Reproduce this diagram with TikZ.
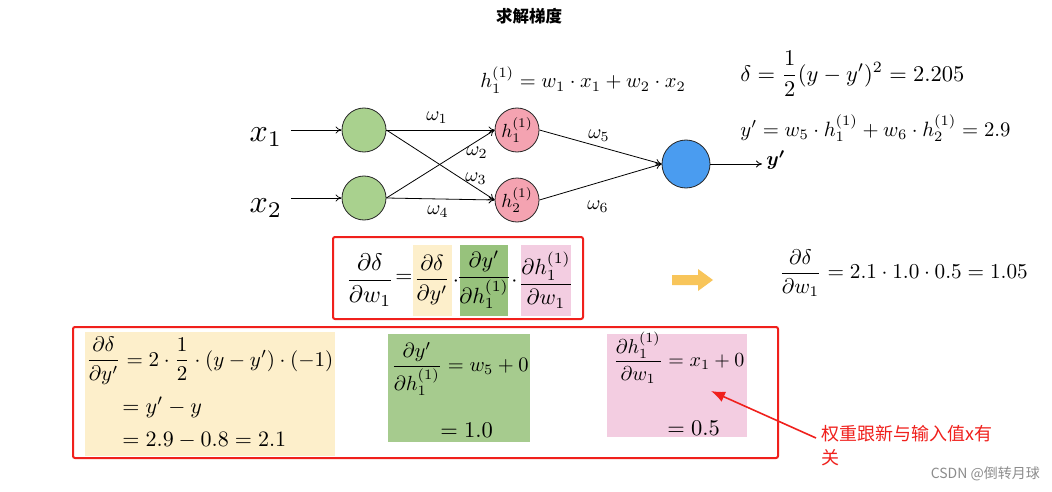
\documentclass[tikz,border=0pt]{standalone}
\usepackage{amsmath}
\usepackage{bm}
\usepackage{fontspec}
\newfontfamily\cjk{Noto Sans CJK SC}
\usetikzlibrary{arrows.meta}
\definecolor{gfill}{HTML}{A9D18E}
\definecolor{pfill}{HTML}{F4A3B1}
\definecolor{bfill}{HTML}{4A9CF0}
\definecolor{ybg}{HTML}{FDEFCB}
\definecolor{gbg}{HTML}{A6CB8E}
\definecolor{gbgd}{HTML}{97C27C}
\definecolor{pbg}{HTML}{F3CDE1}
\definecolor{redbox}{HTML}{F0201C}
\definecolor{yarrow}{HTML}{F8C55A}
\tikzset{
  neuron/.style={circle, draw=black!85, line width=0.8pt, minimum size=44pt, inner sep=0pt},
  conn/.style={-{To[length=6pt,width=7pt]}, line width=0.8pt},
  fm/.style={scale=2.1, inner sep=0pt},
  fmb/.style={scale=2.2, inner sep=0pt},
  wl/.style={scale=2.0, inner sep=0pt},
  redframe/.style={draw=redbox, line width=2pt, rounded corners=2pt}
}
\begin{document}
\begin{tikzpicture}[x=1pt,y=-1pt]
\useasboundingbox (0,0) rectangle (1052,492);
\fill[white] (0,0) rectangle (1052,492);

% title
\node[font=\cjk\bfseries\fontsize{16.5}{19}\selectfont] (title) at (529,16) {求解梯度};

% network
\node[neuron, fill=gfill] (g1) at (364,130) {};
\node[neuron, fill=gfill] (g2) at (364,198) {};
\node[neuron, fill=pfill] (p1) at (517,130) {\scalebox{1.9}{$h_1^{(1)}$}};
\node[neuron, fill=pfill] (p2) at (517,200) {\scalebox{1.9}{$h_2^{(1)}$}};
\node[neuron, fill=bfill, minimum size=48pt] (o) at (686,164) {};
\node[scale=3.2, inner sep=0pt] (x1) at (266,137) {$x_1$};
\node[scale=3.2, inner sep=0pt] (x2) at (266,208) {$x_2$};
\node[scale=2.0, inner sep=0pt, anchor=west] (yo) at (766,160) {$\bm{y'}$};

\draw[conn] ([xshift=8pt]x1.east |- g1.west) -- (g1.west);
\draw[conn] ([xshift=8pt]x2.east |- g2.west) -- (g2.west);
\draw[conn] (g1.east) -- (p1.west);
\draw[conn] (g1.east) -- (p2.west);
\draw[conn] (g2.east) -- (p1.west);
\draw[conn] (g2.east) -- (p2.west);
\draw[conn] (p1.east) -- (o.west);
\draw[conn] (p2.east) -- (o.west);
\draw[conn] (o.east) -- ([xshift=-4pt]yo.west |- o.east);

\node[wl] (w1) at (437,118) {$\omega_1$};
\node[wl] (w2) at (477,153) {$\omega_2$};
\node[wl] (w3) at (476,179) {$\omega_3$};
\node[wl] (w4) at (438,212) {$\omega_4$};
\node[wl] (w5) at (599,136) {$\omega_5$};
\node[wl] (w6) at (598,207) {$\omega_6$};

% formulas top
\node[scale=2.05, inner sep=0pt] (fh) at (583,80) {$h_1^{(1)} = w_1\cdot x_1 + w_2\cdot x_2$};
\node[scale=2.25, inner sep=0pt, anchor=west] (fd) at (740,74) {$\delta = \dfrac{1}{2}(y-y')^2 = 2.205$};
\node[scale=2.07, inner sep=0pt, anchor=west] (fy) at (740,128) {$y' = w_5\cdot h_1^{(1)} + w_6\cdot h_2^{(1)} = 2.9$};

% chain rule box
\fill[ybg] (413,245) rectangle (452,316);
\fill[gbgd] (460,245) rectangle (508,316);
\fill[pbg] (521,245) rectangle (571,316);
\node[scale=2.4, inner sep=0pt] (c0) at (370,280) {$\dfrac{\partial\delta}{\partial w_1}$};
\node[fmb] (ceq) at (404,278) {$=$};
\node[fmb] (c1) at (432,280) {$\dfrac{\partial\delta}{\partial y'}$};
\node[fmb] (cd1) at (456,282) {$\cdot$};
\node[fmb] (c2) at (484,280) {$\dfrac{\partial y'}{\partial h_1^{(1)}}$};
\node[fmb] (cd2) at (514.5,282) {$\cdot$};
\node[fmb] (c3) at (546,280) {$\dfrac{\partial h_1^{(1)}}{\partial w_1}$};
\draw[redframe] (333,237) rectangle (583,319);

% yellow arrow
\fill[yarrow] (672,275) -- (698,275) -- (698,269) -- (713,280) -- (698,291) -- (698,285) -- (672,285) -- cycle;

% result
\node[scale=2.12, inner sep=0pt, anchor=west] (res) at (779,273) {$\dfrac{\partial\delta}{\partial w_1} = 2.1\cdot1.0\cdot0.5 = 1.05$};

% lower box
\fill[ybg] (85,332) rectangle (335,456);
\fill[gbg] (388,334) rectangle (530,442);
\fill[pbg] (607,334) rectangle (747,437);

\node[fm, anchor=west] (ya) at (86,361) {$\dfrac{\partial\delta}{\partial y'} = 2\cdot\dfrac{1}{2}\cdot(y-y')\cdot(-1)$};
\node[scale=2.2, inner sep=0pt, anchor=west] (yb) at (122,407) {$= y'-y$};
\node[scale=2.2, inner sep=0pt, anchor=west] (yc) at (122,440) {$= 2.9-0.8 = 2.1$};

\node[scale=2.05, inner sep=0pt, anchor=west] (ga) at (391,369) {$\dfrac{\partial y'}{\partial h_1^{(1)}} = w_5+0$};
\node[scale=2.25, inner sep=0pt, anchor=west] (gb) at (440,430) {$=1.0$};

\node[scale=2.0, inner sep=0pt, anchor=west] (pa) at (613,358) {$\dfrac{\partial h_1^{(1)}}{\partial w_1} = x_1+0$};
\node[scale=2.25, inner sep=0pt, anchor=west] (pb) at (667,428) {$= 0.5$};

\draw[redframe] (73,327) rectangle (778,458);

% annotation
\node[font=\cjk\fontsize{18}{24}\selectfont, text=redbox, anchor=north west, align=left, inner sep=0pt] (ann) at (821,425) {权重跟新与输入值x有\\关};
\coordinate (tip) at (711,391);
\coordinate (tail) at (816,438);
\draw[redbox, line width=1.6pt, -{Latex[length=14pt,width=11pt]}] (tail) -- (tip);

% watermark
\node[font=\cjk\fontsize{14}{16}\selectfont, text=black!45, anchor=east, inner sep=0pt] (wm) at (1040,474) {CSDN @倒转月球};
\end{tikzpicture}
\end{document}
